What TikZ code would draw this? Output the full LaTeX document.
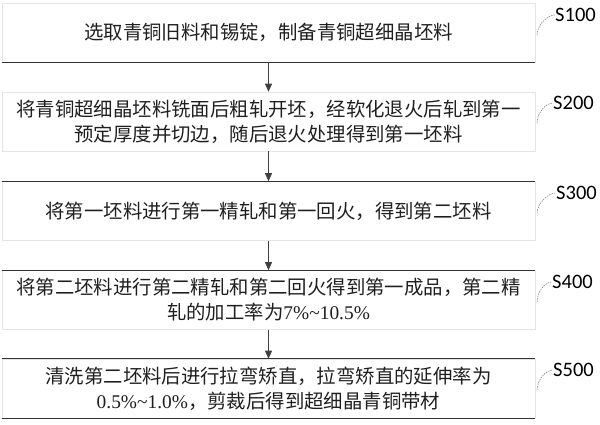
\documentclass[tikz,border=0pt]{standalone}
\usepackage{fontspec}
\usetikzlibrary{arrows.meta}
\newfontfamily\cjk{Noto Sans CJK SC}
\newfontfamily\numfont{Liberation Serif}
\newfontfamily\labfont{Carlito}
\newcommand{\nm}[1]{{\numfont #1}}
\tikzset{
  stepbox/.style={draw=black!10, line width=0.6pt, minimum width=533pt, minimum height=59pt,
    inner sep=0pt, align=center, text=black!88,
    font=\cjk\fontsize{19.4pt}{25pt}\selectfont},
  darkedge/.style={draw=black!80, line width=0.9pt},
  flow/.style={draw=black!75, line width=0.7pt, -{Triangle[length=8pt,width=7pt]}},
  slabel/.style={anchor=west, inner sep=0pt, text=black, font=\labfont\fontsize{20.5pt}{20.5pt}\selectfont},
  leader/.style={draw=black!55, line width=0.5pt, dash pattern=on 1.5pt off 1pt}
}
\begin{document}
\begin{tikzpicture}[x=1pt,y=-1pt]
\useasboundingbox (0,0) rectangle (600,424);
% boxes
\node[stepbox] (b1) at (268.5,32.5) {选取青铜旧料和锡锭，制备青铜超细晶坯料};
\node[stepbox] (b2) at (268.5,121.5) {将青铜超细晶坯料铣面后粗轧开坯，经软化退火后轧到第一\\预定厚度并切边，随后退火处理得到第一坯料};
\node[stepbox] (b3) at (268.5,211) {将第一坯料进行第一精轧和第一回火，得到第二坯料};
\node[stepbox] (b4) at (268.5,300) {将第二坯料进行第二精轧和第二回火得到第一成品，第二精\\轧的加工率为\nm{7\%\textasciitilde 10.5\%}};
\node[stepbox] (b5) at (268.5,388.5) {清洗第二坯料后进行拉弯矫直，拉弯矫直的延伸率为\\\nm{0.5\%\textasciitilde 1.0\%}，剪裁后得到超细晶青铜带材};
% dark edges as printed
\draw[darkedge] (b1.south west) -- (b1.south east);
\draw[darkedge] (b3.north west) -- (b3.north east);
\draw[darkedge] (b4.north west) -- (b4.north east);
\draw[darkedge] (b5.north west) -- (b5.north east);
\draw[darkedge] (b5.south west) -- (b5.south east);
% arrows
\draw[flow] (b1.south) -- (b2.north);
\draw[flow] (b2.south) -- (b3.north);
\draw[flow] (b3.south) -- (b4.north);
\draw[flow] (b4.south) -- (b5.north);
% step labels
\node[slabel] (s1) at (555,15) {S100};
\node[slabel] (s2) at (553,103) {S200};
\node[slabel] (s3) at (556,193) {S300};
\node[slabel] (s4) at (552,282) {S400};
\node[slabel] (s5) at (553,370) {S500};
\coordinate (c1) at (537,35);
\coordinate (c2) at (537,123);
\coordinate (c3) at (537,213);
\coordinate (c4) at (537,302);
\coordinate (c5) at (537,390);
\foreach \i in {1,...,5}{
  \draw[leader] (c\i) .. controls +(0.5,-11) and +(-7,0) .. (s\i.west);
}
\end{tikzpicture}
\end{document}
